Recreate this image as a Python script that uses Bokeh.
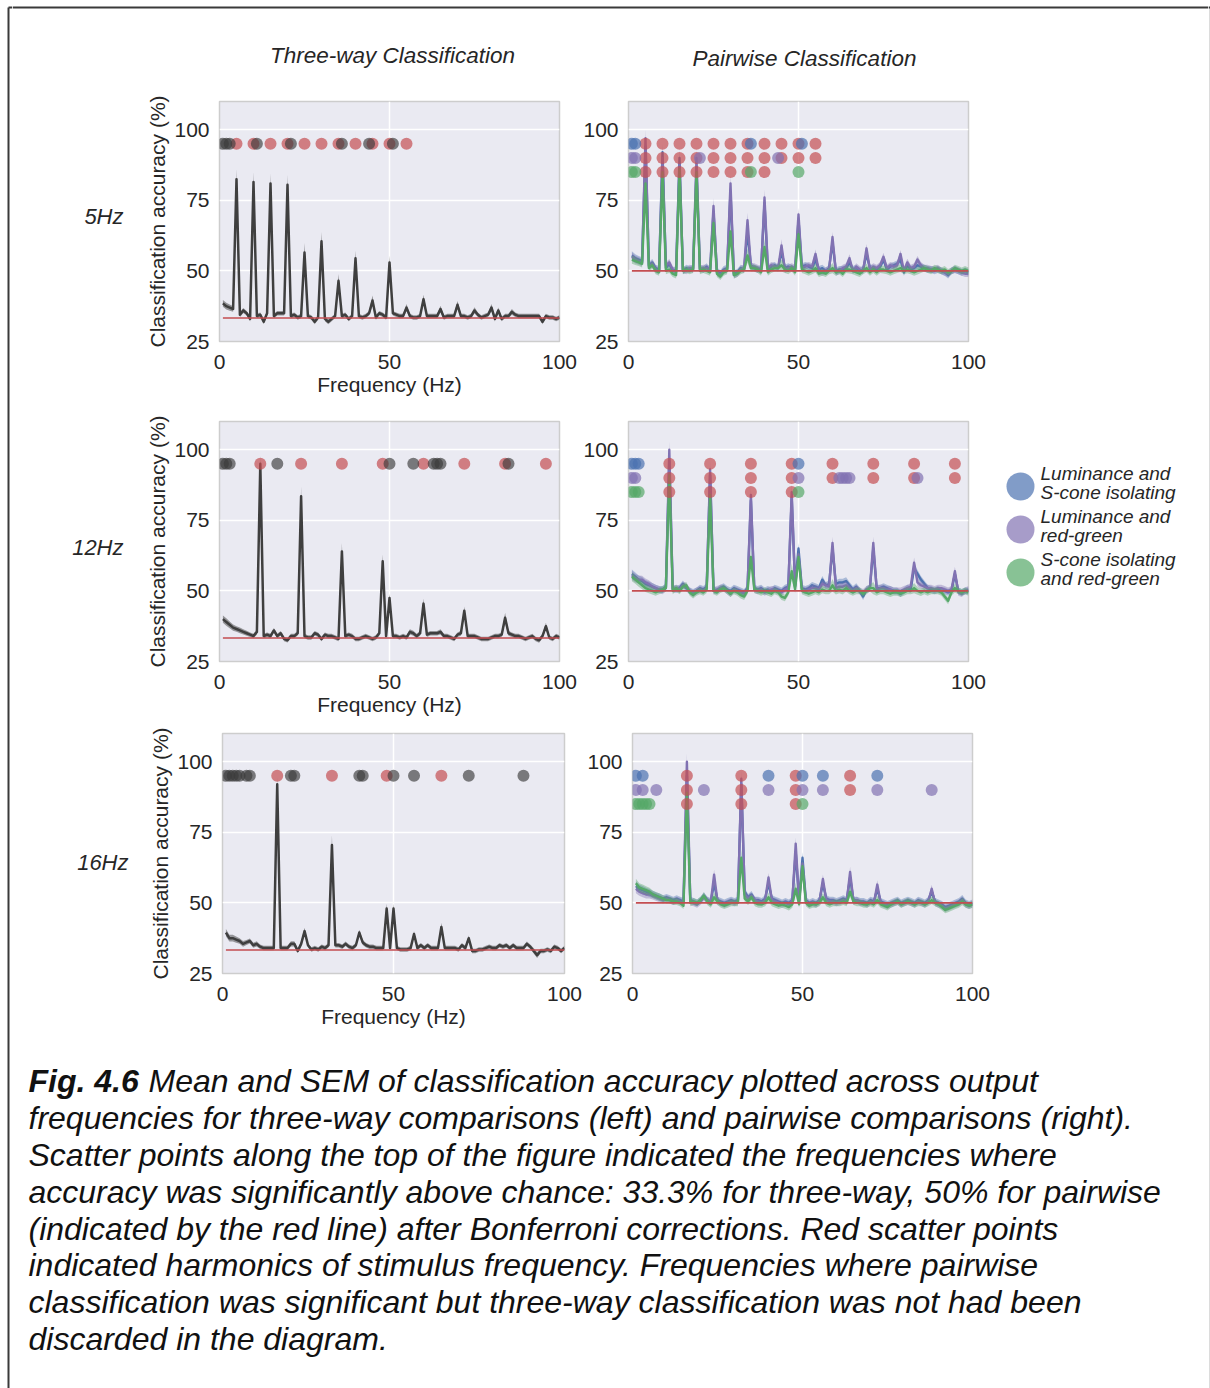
from bokeh.plotting import figure
from bokeh.layouts import column, row
from bokeh.models import Range1d, FixedTicker, Label
from bokeh.embed import file_html
from bokeh.resources import INLINE

# ---------------- data ----------------
FREQS = list(range(1, 101))
X_TICKS = [0, 50, 100]
Y_TICKS = [25, 50, 75, 100]
ROW_NAMES = ["5Hz", "12Hz", "16Hz"]
COL_TITLES = ["Three-way Classification", "Pairwise Classification"]
PAIR_NAMES = ["Luminance and\nS-cone isolating", "Luminance and\nred-green", "S-cone isolating\nand red-green"]
CHANCE_THREE = 33.3
CHANCE_PAIR = 50.0
SIG_Y_THREE = 95
SIG_Y_PAIR = [95, 90, 85]

three_5 = [38.5,37.5,37,36.5,82.5,34.5,36,35,33,81.5,
           34,34.5,32,35,81,34,35,35,35,80.5,
           34,34.5,33.5,34,56.5,34,33.5,32,33.5,60.5,
           33,32,33,34,46.5,34,34.5,33,34,54.5,
           34,33.5,34,35,39.5,33.5,35,34.5,33.5,53,
           35,34.5,34,34,37,34,33.5,33.5,34,40,
           34,34,34,34,36.5,33.5,34,34,34,38,
           34,34,33.5,34,36,34.5,33.5,34,34.5,37,
           33,36,33,34,34,35.5,34.5,34,34,34,
           34,34,34,34,32,34,33.5,33.5,33,33.5]
sem_three_5 = [1.2,1.2,1.1,1.0,3.6,0.9,0.9,0.8,0.9,3.5,
               0.8,0.8,0.9,0.8,3.5,0.8,0.8,0.8,0.8,3.6,
               0.8,0.8,0.8,0.8,3.4,0.8,0.8,0.9,0.8,3.3,
               0.8,0.9,0.8,0.8,2.4,0.8,0.8,0.8,0.8,2.6,
               0.8,0.8,0.8,0.8,1.8,0.8,0.8,0.8,0.8,2.4,
               0.8,0.8,0.8,0.8,1.3,0.8,0.8,0.8,0.8,1.6,
               0.8,0.8,0.8,0.8,1.2,0.8,0.8,0.8,0.8,1.3,
               0.8,0.8,0.8,0.8,1.1,0.8,0.8,0.8,0.8,1.3,
               0.9,1.0,0.8,0.8,0.8,1.0,0.8,0.8,0.8,0.8,
               0.8,0.8,0.8,0.8,0.9,0.8,0.8,0.8,0.8,0.8]
three_12 = [40,39,38,37,36.5,36,35.5,35,34.5,34,
            35.5,95,34,34.5,34,36,34,35,33,32.5,
            34,34,35,83.5,34,33.5,33.5,35,34.5,33,
            34.5,34,34,33.5,33,64,34,34.5,34,33,
            33,33.5,34,33.5,33,33.5,35,60.5,34,47.5,
            34,34,33.5,34,33.5,35.5,35,34,35,45.5,
            34.5,35,35,35,35.5,34,34,33.5,33,34.5,
            35,43,34,34,34,33.5,33,33,33,33.5,
            34,34,34.5,40.5,35,34.5,34,34,33.5,33,
            33.5,34,33,32.5,34,37.5,33.5,33,34,33.5]
sem_three_12 = [1.3,1.3,1.2,1.1,1.0,1.0,0.9,0.9,0.8,0.8,
                0.9,3.0,0.8,0.8,0.8,0.9,0.8,0.8,0.8,0.8,
                0.8,0.8,0.8,3.5,0.8,0.8,0.8,0.8,0.8,0.8,
                0.8,0.8,0.8,0.8,0.8,3.0,0.8,0.8,0.8,0.8,
                0.8,0.8,0.8,0.8,0.8,0.8,0.9,2.5,0.8,1.5,
                0.8,0.8,0.8,0.8,0.8,0.9,0.9,0.8,0.9,1.8,
                0.8,0.8,0.8,0.8,0.9,0.8,0.8,0.8,0.8,0.8,
                0.9,1.5,0.8,0.8,0.8,0.8,0.8,0.8,0.8,0.8,
                0.8,0.8,0.8,1.8,0.9,0.8,0.8,0.8,0.8,0.8,
                0.8,0.8,0.8,0.9,0.8,1.2,0.8,0.8,0.8,0.8]
three_16 = [39.5,37.5,37.5,37,36.5,35.5,36,36.5,35,35.5,
            34.5,34,34,34,34,92,34,34,34,35.5,
            35.5,33,35.5,40,35,33.5,34,33.5,34.5,34,
            35,70.5,35,35,34.5,35.5,34.5,34,35,39.5,
            36,35,34.5,34.5,34,34,34,48,34,48,
            34,33.5,33.5,33.5,34,39,34,35,34,35,
            34,34,34,41.5,34,34,34,34,33.5,35,
            34,37.5,33,33,33.5,33.5,34,34.5,34,34,
            35,34.5,35,34,35,34,34,34,35.5,34.5,
            33,31.5,33,33,33.5,33,34.5,34,33,34]
sem_three_16 = [1.3,1.2,1.2,1.1,1.0,1.0,0.9,0.9,0.9,0.9,
                0.8,0.8,0.8,0.8,0.8,2.5,0.8,0.8,0.8,0.9,
                0.9,0.8,0.9,1.2,0.8,0.8,0.8,0.8,0.8,0.8,
                0.8,3.5,0.8,0.8,0.8,0.8,0.8,0.8,0.8,1.0,
                0.9,0.8,0.8,0.8,0.8,0.8,0.8,1.8,0.8,1.8,
                0.8,0.8,0.8,0.8,0.8,1.0,0.8,0.8,0.8,0.8,
                0.8,0.8,0.8,1.5,0.8,0.8,0.8,0.8,0.8,0.8,
                0.8,1.0,0.8,0.8,0.8,0.8,0.8,0.8,0.8,0.8,
                0.8,0.8,0.8,0.8,0.8,0.8,0.8,0.8,0.8,0.8,
                0.9,1.0,0.8,0.8,0.8,0.8,0.8,0.8,0.8,0.8]

# pairwise: luminance/S-cone (blue), luminance/red-green (purple), S-cone/red-green (green)
p5_blue = [55.5,54.5,54,53.5,94,52,53,51,50.5,92,
           51,52.5,50,50.5,90,50,51,50.5,51,86,
           51,50.5,51.5,50,71,50,49,50.5,51,78,
           49,49.5,51,50.5,64,52,51,50.5,51,74,
           50.5,51.5,52,51,57,51,51.5,51,50.5,68,
           51.5,52,51.5,51,54,50.5,51,50,51,60,
           50,50.5,50.5,51,53,50.5,51,50,50.5,56,
           51,51,50.5,51.5,54,50.5,51.5,52,52.5,54,
           49.5,52,50.5,51,52,51.5,51,50.5,50.5,50,
           50.5,50,49.5,48.5,50,50.5,50,49.5,50,49.5]
p5_purple = [55,54,53.5,53,97,51.5,52.5,50.5,50,90,
             52,53,50.5,49.5,88,50.5,50,51,50.5,90,
             50.5,51,51,50.5,73,49.5,48.5,50,50.5,81,
             48.5,49,50.5,51,68,51.5,51.5,51,50,76,
             51,52,51.5,51,59,50.5,51,51.5,51,70,
             51,51.5,52,51.5,56,50,49.5,50,50.5,62,
             49.5,50,51,51.5,54.5,50,51.5,50.5,50,58,
             50.5,51.5,51,52,55,51,52,51.5,52,56,
             50,53,51,51.5,54,52,51,51,50.5,50.5,
             51,50,49.5,49,50,50.5,50,49.5,49,49]
p5_green = [54,53.5,53,52.5,81,51,52,50,49.5,85,
            50,50.5,49,48.5,86,50,50.5,50,50.5,85,
            50,50.5,50,49.5,67,49,48,49.5,50,64,
            48.5,49,50,50.5,55.5,51,51,50.5,49.5,58.5,
            49.5,50.5,51,51,52,50.5,50,51,49.5,63,
            50.5,50,49.5,50,51,49,49.5,49,50,51,
            49.5,50,49,50.5,50.5,50,49.5,49,50,51,
            49.5,50.5,49.5,50.5,50.5,50,49.5,50,50.5,51,
            50,50.5,50,49.5,50,50.5,51,50.5,50,51,
            50.5,50,50.5,49.5,50,51,50.5,50,50.5,50]
sem_pair_5 = [1.5,1.4,1.3,1.3,3.0,1.2,1.2,1.2,1.2,3.0,
              1.2,1.2,1.2,1.2,3.0,1.2,1.2,1.2,1.2,3.0,
              1.2,1.2,1.2,1.2,2.8,1.2,1.2,1.2,1.2,2.8,
              1.2,1.2,1.2,1.2,2.6,1.2,1.2,1.2,1.2,2.8,
              1.2,1.2,1.2,1.2,2.2,1.2,1.2,1.2,1.2,2.4,
              1.2,1.2,1.2,1.2,1.6,1.2,1.2,1.2,1.2,1.8,
              1.2,1.2,1.2,1.2,1.4,1.2,1.2,1.2,1.2,1.5,
              1.2,1.2,1.2,1.2,1.4,1.2,1.2,1.2,1.2,1.4,
              1.2,1.3,1.2,1.2,1.3,1.2,1.2,1.2,1.2,1.2,
              1.2,1.2,1.2,1.2,1.2,1.2,1.2,1.2,1.2,1.2]

p12_blue = [56,55,54,53.5,52.5,52,51.5,51,50.5,50.5,
            51.5,96,51,50.5,51,52.5,51,50,49.5,50,
            51,50.5,51.5,91,50.5,50,51,51.5,50.5,50,
            51,50.5,50,49.5,51,82,51,50.5,51,50,
            50.5,50,51,50.5,50,51,51.5,83,52,65,
            51,50.5,51,52,51.5,51,54,52,52.5,65,
            52.5,53,53,53.5,52,50.5,51.5,50,48,50.5,
            51,65,51,51,51.5,51,50.5,50,50,49,
            50,51,50.5,58,56,54,52.5,51,50.5,50,
            50.5,50,50,49.5,50,56,50,49.5,50,50]
p12_purple = [55.5,54.5,54,54,53,52.5,51.5,51,50.5,50,
              51,100,50.5,51,50.5,52,51.5,50,49,50,
              50.5,50,51,93,50,50.5,51,51,50,49,
              50.5,50,49.5,49,50.5,84,50.5,50,50.5,49.5,
              50,50.5,50.5,50,49.5,50.5,51,85,51.5,63,
              50.5,50,50.5,51,51,50.5,52.5,52,51.5,67,
              51,51.5,51.5,52,51,50,51,50,49.5,50.5,
              51,67,50.5,51,51,50.5,50.5,50,50,50,
              50.5,51,51.5,60,53,52,51.5,51,51,50.5,
              51,51,50.5,50,50.5,57,49.5,49,50,50.5]
p12_green = [55,54,53,52,51,50.5,50,49.5,50,50.5,
             51,91,50,51,50,51.5,52,49.5,48.5,49.5,
             50,49.5,50.5,84,50,49.5,50.5,51,50,49,
             50,49.5,48.5,48,50,62,50.5,50,49.5,50,
             49.5,49,50,49.5,48,47.5,49.5,57,50.5,62,
             50,49.5,49,49.5,50,49.5,50.5,50,50,52,
             50,50.5,50,51,50,49.5,50,50,49,50,
             51,51,49.5,50,50,49.5,49,49.5,49.5,49,
             49.5,50,50,51,50,49.5,50,49.5,50,50,
             50,49.5,48,46.5,49.5,51,50,49.5,50,49.5]
sem_pair_12 = [1.6,1.5,1.5,1.4,1.4,1.3,1.3,1.2,1.2,1.2,
               1.2,3.0,1.2,1.2,1.2,1.2,1.2,1.2,1.2,1.2,
               1.2,1.2,1.2,3.0,1.2,1.2,1.2,1.2,1.2,1.2,
               1.2,1.2,1.2,1.2,1.2,2.8,1.2,1.2,1.2,1.2,
               1.2,1.2,1.2,1.2,1.2,1.2,1.2,2.8,1.2,2.0,
               1.2,1.2,1.2,1.2,1.2,1.2,1.3,1.2,1.2,2.2,
               1.3,1.3,1.3,1.3,1.2,1.2,1.2,1.2,1.2,1.2,
               1.2,2.2,1.2,1.2,1.2,1.2,1.2,1.2,1.2,1.2,
               1.2,1.2,1.2,1.8,1.4,1.3,1.2,1.2,1.2,1.2,
               1.2,1.2,1.2,1.2,1.2,1.6,1.2,1.2,1.2,1.2]

p16_blue = [56,55,54.5,54,53.5,53,52.5,52,51.5,52,
            51.5,51,51.5,51,50.5,95,51,50.5,50,51,
            52.5,51,50.5,57,51,50.5,50,50.5,51,50.5,
            51,92,54,52,53,51,51,50.5,51.5,57,
            51.5,51,50.5,50,50.5,50,51,68,51,66,
            51,50,50.5,50,51,57,51.5,51,51,50.5,
            51,51.5,51,59,51,51,50.5,50.5,50,51,
            50.5,55,50.5,50,49.5,50,50.5,51,50,50.5,
            51,50.5,50,51,50.5,50,51,54,50.5,50,
            49.5,48.5,49,49.5,50,50.5,51.5,50,49.5,50]
p16_purple = [55,54,53.5,53,53,52.5,52,51.5,51,51.5,
              51,50.5,51,50.5,50,100,50.5,50,49.5,50.5,
              52,51,50,60,50.5,50,49.5,50,50.5,50,
              50.5,94,53,51.5,52.5,51,50.5,50,51,59,
              51,50.5,50,49.5,50,49.5,50.5,71,50.5,64,
              50.5,49.5,50,49.5,50.5,58.5,51,50.5,50.5,50,
              50.5,51,50.5,61,50.5,51,50,50,49.5,50.5,
              50,56.5,50,49.5,49,49.5,50,50.5,49.5,50,
              50.5,50,49.5,50.5,50,49.5,50.5,55,50,49.5,
              49,48,48.5,49,49.5,50,51,49.5,49,49.5]
p16_green = [57,55.5,55,54.5,54,53,52.5,52,51.5,51,
             51,50.5,50.5,50,49,89,50,50.5,50,51,
             52.5,50.5,49.5,52,50.5,49.5,49,49.5,50,50,
             50,66,51.5,50.5,52,50,49.5,49.5,50,52,
             50,49.5,49,49.5,49,48.5,49.5,55,49.5,63,
             50,49,49.5,49.5,50,52,50,49.5,50,50,
             50,50.5,50,54,50.5,50,50,49.5,49.5,50,
             49.5,51,49.5,49,48.5,49.5,50,50.5,49.5,50,
             50.5,50,49.5,50,50,49.5,50,51,50,49.5,
             48.5,47.5,48,48.5,49,49.5,50.5,49.5,49,49.5]
sem_pair_16 = [1.6,1.5,1.5,1.4,1.4,1.3,1.3,1.3,1.2,1.2,
               1.2,1.2,1.2,1.2,1.2,3.0,1.2,1.2,1.2,1.2,
               1.3,1.2,1.2,1.8,1.2,1.2,1.2,1.2,1.2,1.2,
               1.2,3.0,1.3,1.2,1.2,1.2,1.2,1.2,1.2,1.6,
               1.2,1.2,1.2,1.2,1.2,1.2,1.2,2.2,1.2,2.0,
               1.2,1.2,1.2,1.2,1.2,1.6,1.2,1.2,1.2,1.2,
               1.2,1.2,1.2,1.8,1.2,1.2,1.2,1.2,1.2,1.2,
               1.2,1.5,1.2,1.2,1.2,1.2,1.2,1.2,1.2,1.2,
               1.2,1.2,1.2,1.2,1.2,1.2,1.2,1.4,1.2,1.2,
               1.2,1.2,1.2,1.2,1.2,1.2,1.3,1.2,1.2,1.2]

# significant frequencies (top scatter rows); harmonics shown in red
three_sig = [[1, 2, 3, 11, 21, 36, 44, 51],
             [1, 2, 3, 17, 50, 57, 63, 64, 65, 85],
             [1, 2, 3, 4, 5, 7, 8, 20, 21, 40, 41, 50, 56, 72, 88]]
three_harm = [[5, 10, 15, 20, 25, 30, 35, 40, 45, 50, 55],
              [12, 24, 36, 48, 60, 72, 84, 96],
              [16, 32, 48, 64]]
pair_sig = [  # per row: blue, purple, green
    [[1, 2, 36, 51], [1, 2, 21, 44], [1, 2, 36, 50]],
    [[1, 2, 3, 50], [1, 2, 50, 62, 63, 64, 65, 85], [1, 2, 3, 50]],
    [[1, 3, 40, 50, 56, 72], [1, 3, 7, 21, 40, 50, 56, 72, 88], [1, 2, 3, 4, 5, 50]],
]
pair_harm = [
    [[5, 10, 15, 20, 25, 30, 35, 40, 45, 50, 55], [5, 10, 15, 20, 25, 30, 35, 40, 45, 50, 55], [5, 10, 15, 20, 25, 30, 35, 40]],
    [[12, 24, 36, 48, 60, 72, 84, 96], [12, 24, 36, 48, 60, 72, 84, 96], [12, 24, 36, 48]],
    [[16, 32, 48, 64], [16, 32, 48, 64], [16, 32, 48]],
]

THREE_MEANS = [three_5, three_12, three_16]
THREE_SEMS = [sem_three_5, sem_three_12, sem_three_16]
PAIR_MEANS = [[p5_blue, p5_purple, p5_green], [p12_blue, p12_purple, p12_green], [p16_blue, p16_purple, p16_green]]
PAIR_SEMS = [sem_pair_5, sem_pair_12, sem_pair_16]

for arr in THREE_MEANS + THREE_SEMS + PAIR_SEMS + [s for r in PAIR_MEANS for s in r]:
    assert len(arr) == len(FREQS), len(arr)

CAPTION_BOLD = "Fig. 4.6"
CAPTION_LINES = [
    "Mean and SEM of classification accuracy plotted across output",
    "frequencies for three-way comparisons (left) and pairwise comparisons (right).",
    "Scatter points along the top of the figure indicated the frequencies where",
    "accuracy was significantly above chance: 33.3% for three-way, 50% for pairwise",
    "(indicated by the red line) after Bonferroni corrections. Red scatter points",
    "indicated harmonics of stimulus frequency. Frequencies where pairwise",
    "classification was significant but three-way classification was not had been",
    "discarded in the diagram.",
]

# ---------------- style ----------------
FONT = "Liberation Sans"
TXT = "#262626"
BG = "#EAEAF2"
GRAY = "#3f3f3f"
RED = "#C44E52"
PAIR_COLORS = ["#4C72B0", "#8172B2", "#55A868"]
FRAME_LINE = "#3a3a3a"
DOT = 12

PAGE_W, PAGE_H = 1210, 1388
STRIP_L, STRIP_R = 12, 2          # thin strips holding the page frame lines
CONTENT_W = PAGE_W - STRIP_L - STRIP_R
OX = STRIP_L                      # x offset of the content column on the page


def blank(w, h, mbt=0, mbb=0):
    # pixel-like coordinates: x to the right, y downwards
    p = figure(width=w, height=h, x_range=Range1d(0, w), y_range=Range1d(h - mbb, mbt),
               output_backend="svg", toolbar_location=None,
               x_axis_type=None, y_axis_type=None,
               min_border=0, min_border_left=0, min_border_right=0,
               min_border_top=mbt, min_border_bottom=mbb)
    p.grid.visible = False
    p.outline_line_color = None
    p.background_fill_color = "white"
    p.border_fill_color = "white"
    return p


def label(p, x, y, text, size, style="normal", align="left", color=TXT):
    p.add_layout(Label(x=x, y=y, text=text, text_font=FONT, text_font_size=size,
                       text_font_style=style, text_align=align, text_baseline="middle",
                       text_color=color))


def panel(w, h, mbl, mbr, mbt, mbb, ylabel, xlabel):
    p = figure(width=w, height=h, x_range=Range1d(0, 100), y_range=Range1d(25, 110),
               output_backend="svg", toolbar_location=None,
               min_border_left=mbl, min_border_right=mbr,
               min_border_top=mbt, min_border_bottom=mbb)
    p.background_fill_color = BG
    p.border_fill_color = "white"
    p.outline_line_color = "#CDCDCD"
    p.outline_line_width = 1.5
    p.xaxis.ticker = FixedTicker(ticks=X_TICKS)
    p.yaxis.ticker = FixedTicker(ticks=Y_TICKS)
    p.xgrid.ticker = FixedTicker(ticks=X_TICKS)
    p.ygrid.ticker = FixedTicker(ticks=Y_TICKS)
    p.grid.grid_line_color = "white"
    p.grid.grid_line_width = 1.5
    for ax in (p.xaxis[0], p.yaxis[0]):
        ax.axis_line_color = None
        ax.major_tick_line_color = None
        ax.minor_tick_line_color = None
        ax.major_tick_out = 0
        ax.major_tick_in = 0
        ax.minor_tick_out = 0
        ax.major_label_text_font = FONT
        ax.major_label_text_font_size = "21px"
        ax.major_label_text_color = TXT
        ax.axis_label_text_font = FONT
        ax.axis_label_text_font_size = "21px"
        ax.axis_label_text_font_style = "normal"
        ax.axis_label_text_color = TXT
    p.xaxis.major_label_standoff = 13
    p.yaxis.major_label_standoff = 10
    p.xaxis.axis_label_standoff = 1
    p.yaxis.axis_label_standoff = 2
    if xlabel:
        p.xaxis.axis_label = xlabel
    if ylabel:
        p.yaxis.axis_label = ylabel
    return p


def band_line(p, mean, sem, color, alpha, width):
    lo = [m - s for m, s in zip(mean, sem)]
    hi = [m + s for m, s in zip(mean, sem)]
    p.varea(x=FREQS, y1=lo, y2=hi, fill_color=color, fill_alpha=alpha)
    p.line(FREQS, mean, line_color=color, line_width=width, line_join="round")


# ---------------- page frame strips ----------------
lstrip = blank(STRIP_L, PAGE_H)
lstrip.segment(x0=[8, 8], y0=[7, 7], x1=[8, STRIP_L], y1=[PAGE_H, 7],
               line_color=FRAME_LINE, line_width=2)
rstrip = blank(STRIP_R, PAGE_H)
rstrip.segment(x0=[1], y0=[7], x1=[1], y1=[PAGE_H], line_color="#dcdcdc", line_width=1)
rstrip.segment(x0=[0], y0=[7], x1=[STRIP_R], y1=[7], line_color=FRAME_LINE, line_width=2)

# ---------------- content ----------------
ROWS = [
    dict(mw=140 - OX, h=315, mbt=16, mbb=59, ly=131, lx=123 - OX),
    dict(mw=140 - OX, h=320, mbt=21, mbb=59, ly=147, lx=123 - OX),
    dict(mw=144 - OX, h=325, mbt=13, mbb=72, ly=142, lx=128 - OX),
]

children = []

hdr = blank(CONTENT_W, 85)
hdr.segment(x0=[0], y0=[7], x1=[CONTENT_W], y1=[7], line_color=FRAME_LINE, line_width=2)
label(hdr, 392 - OX, 55, COL_TITLES[0], "22.5px", "italic", "center")
label(hdr, 804 - OX, 58, COL_TITLES[1], "22.5px", "italic", "center")
children.append(hdr)

for i, g in enumerate(ROWS):
    m = blank(g["mw"], g["h"], g["mbt"], g["mbb"])
    label(m, g["lx"], g["ly"], ROW_NAMES[i], "22px", "italic", "right")

    left = panel(440, g["h"], 79 if i < 2 else 78, 21 if i < 2 else 20, g["mbt"], g["mbb"],
                 "Classification accuracy (%)", "Frequency (Hz)")
    band_line(left, THREE_MEANS[i], THREE_SEMS[i], GRAY, 0.5, 2.5)
    left.line(FREQS, [CHANCE_THREE] * len(FREQS), line_color=RED, line_width=1.6)
    left.scatter(three_harm[i], [SIG_Y_THREE] * len(three_harm[i]), size=DOT,
                 fill_color=RED, fill_alpha=0.7, line_color=None)
    left.scatter(three_sig[i], [SIG_Y_THREE] * len(three_sig[i]), size=DOT,
                 fill_color="#3a3a3a", fill_alpha=0.65, line_color=None)

    right = panel(420, g["h"], 47, 32, g["mbt"], g["mbb"], None, None)
    for k in range(3):
        band_line(right, PAIR_MEANS[i][k], PAIR_SEMS[i], PAIR_COLORS[k], 0.4, 2.4)
    right.line(FREQS, [CHANCE_PAIR] * len(FREQS), line_color=RED, line_width=1.6)
    for k in range(3):
        hx = pair_harm[i][k]
        right.scatter(hx, [SIG_Y_PAIR[k]] * len(hx), size=DOT,
                      fill_color=RED, fill_alpha=0.7, line_color=None)
        sx = pair_sig[i][k]
        right.scatter(sx, [SIG_Y_PAIR[k]] * len(sx), size=DOT,
                      fill_color=PAIR_COLORS[k], fill_alpha=0.7, line_color=None)

    lw = CONTENT_W - g["mw"] - 440 - 420
    leg = blank(lw, g["h"], g["mbt"], g["mbb"])
    if i == 1:
        cy = [86, 129, 172]
        leg.scatter([20, 20, 20], cy, size=28, fill_color=PAIR_COLORS, fill_alpha=0.7, line_color=None)
        for k, name in enumerate(PAIR_NAMES):
            l1, l2 = name.split("\n")
            label(leg, 40, cy[k] - 13, l1, "19px", "italic")
            label(leg, 40, cy[k] + 6, l2, "19px", "italic")
    children.append(row(m, left, right, leg, spacing=0))

cap_h = PAGE_H - 85 - sum(g["h"] for g in ROWS)
cap = blank(CONTENT_W, cap_h)
line_y = [35, 72, 109, 146, 183, 219, 256, 293]
label(cap, 28 - OX, line_y[0], CAPTION_BOLD, "32px", "bold italic", "left", "#111111")
label(cap, 148 - OX, line_y[0], CAPTION_LINES[0], "32px", "italic", "left", "#111111")
for j in range(1, len(CAPTION_LINES)):
    label(cap, 28 - OX, line_y[j], CAPTION_LINES[j], "32px", "italic", "left", "#111111")
children.append(cap)

root = row(lstrip, column(*children, spacing=0), rstrip, spacing=0)
open("out.html", "w").write(file_html(root, INLINE))
